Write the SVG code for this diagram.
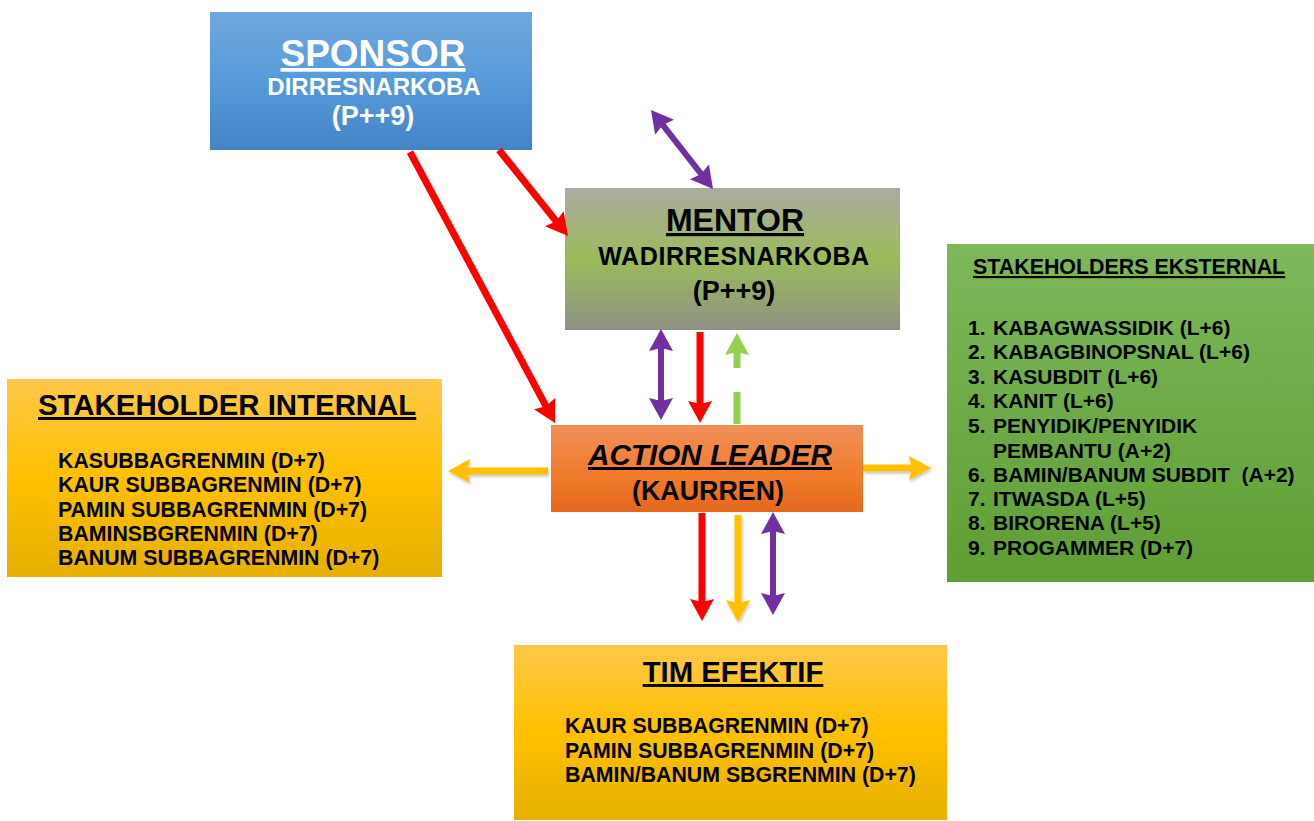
<svg xmlns="http://www.w3.org/2000/svg" width="1314" height="821" viewBox="0 0 1314 821">
  <style>
    text { font-family: "Liberation Sans", Arial, sans-serif; font-weight: bold; fill: #000; white-space: pre; }
    .ul { text-decoration: underline; }
    .mid { text-anchor: middle; }
    .white { fill: #fff; }
    .item { font-size: 21.3px; }
    .ext { font-size: 21px; }
    .conn { fill: none; stroke-linecap: butt; }
    .red { stroke: #ff0000; stroke-width: 7; }
    .purple { stroke: #7030a0; stroke-width: 6; }
    .green { stroke: #92d050; stroke-width: 7; }
    .yellow { stroke: #ffc000; stroke-width: 7; }
  </style>
  <defs>
    <linearGradient id="gBlue" x1="0" y1="0" x2="0" y2="1">
      <stop offset="0" stop-color="#70a8dd"/>
      <stop offset="0.5" stop-color="#579ad9"/>
      <stop offset="1" stop-color="#4383c6"/>
    </linearGradient>
    <linearGradient id="gMentor" x1="0" y1="0" x2="0" y2="1">
      <stop offset="0" stop-color="#ababa2"/>
      <stop offset="0.5" stop-color="#9bbb59"/>
      <stop offset="1" stop-color="#8e9285"/>
    </linearGradient>
    <linearGradient id="gGreen" x1="0" y1="0" x2="0" y2="1">
      <stop offset="0" stop-color="#7db85b"/>
      <stop offset="1" stop-color="#5f9e33"/>
    </linearGradient>
    <linearGradient id="gGold" x1="0" y1="0" x2="0" y2="1">
      <stop offset="0" stop-color="#ffc84a"/>
      <stop offset="0.5" stop-color="#ffc000"/>
      <stop offset="1" stop-color="#e5b000"/>
    </linearGradient>
    <linearGradient id="gOrange" x1="0" y1="0" x2="0" y2="1">
      <stop offset="0" stop-color="#f08f5a"/>
      <stop offset="0.6" stop-color="#f07b2a"/>
      <stop offset="1" stop-color="#e3681c"/>
    </linearGradient>
    <filter id="soft" x="-20%" y="-50%" width="140%" height="200%">
      <feDropShadow dx="1" dy="2" stdDeviation="1.5" flood-color="#000" flood-opacity="0.25"/>
    </filter>
    <marker id="hRed" viewBox="0 0 22 24" markerWidth="22" markerHeight="24" refX="10" refY="12" orient="auto-start-reverse" markerUnits="userSpaceOnUse">
      <path d="M0,0 L22,12 L0,24 L3,12 z" fill="#ff0000"/>
    </marker>
    <marker id="hPurple" viewBox="0 0 22 24" markerWidth="22" markerHeight="24" refX="10" refY="12" orient="auto-start-reverse" markerUnits="userSpaceOnUse">
      <path d="M0,0 L22,12 L0,24 L3,12 z" fill="#7030a0"/>
    </marker>
    <marker id="hGreen" viewBox="0 0 22 24" markerWidth="22" markerHeight="24" refX="10" refY="12" orient="auto-start-reverse" markerUnits="userSpaceOnUse">
      <path d="M0,0 L22,12 L0,24 L3,12 z" fill="#92d050"/>
    </marker>
    <marker id="hYellow" viewBox="0 0 22 24" markerWidth="22" markerHeight="24" refX="10" refY="12" orient="auto-start-reverse" markerUnits="userSpaceOnUse">
      <path d="M0,0 L22,12 L0,24 L3,12 z" fill="#ffc000"/>
    </marker>
  </defs>

  <rect width="1314" height="821" fill="#fff"/>

  <!-- Sponsor -->
  <g id="sponsor">
    <rect x="210" y="12" width="322" height="138" fill="url(#gBlue)"/>
    <text class="mid white ul" x="373" y="66" font-size="37">SPONSOR</text>
    <text class="mid white" x="374" y="95" font-size="24">DIRRESNARKOBA</text>
    <text class="mid white" x="373" y="125" font-size="27">(P++9)</text>
  </g>

  <!-- Mentor -->
  <g id="mentor">
    <rect x="565" y="188" width="335" height="142" fill="url(#gMentor)"/>
    <text class="mid ul" x="735" y="231" font-size="32">MENTOR</text>
    <text class="mid" x="734" y="265" font-size="25" letter-spacing="0.6">WADIRRESNARKOBA</text>
    <text class="mid" x="734" y="300" font-size="27">(P++9)</text>
  </g>

  <!-- External stakeholders -->
  <g id="stakeholders-eksternal">
    <rect x="947" y="244" width="367" height="338" fill="url(#gGreen)"/>
    <text class="ul" x="973" y="274" font-size="21.4">STAKEHOLDERS EKSTERNAL</text>
    <text class="ext" x="968" y="335">1.<tspan x="993">KABAGWASSIDIK (L+6)</tspan></text>
    <text class="ext" x="968" y="359">2.<tspan x="993">KABAGBINOPSNAL (L+6)</tspan></text>
    <text class="ext" x="968" y="384">3.<tspan x="993">KASUBDIT (L+6)</tspan></text>
    <text class="ext" x="968" y="408">4.<tspan x="993">KANIT (L+6)</tspan></text>
    <text class="ext" x="968" y="433">5.<tspan x="993">PENYIDIK/PENYIDIK</tspan></text>
    <text class="ext" x="993" y="458">PEMBANTU (A+2)</text>
    <text class="ext" x="968" y="482">6.<tspan x="993">BAMIN/BANUM SUBDIT  (A+2)</tspan></text>
    <text class="ext" x="968" y="506">7.<tspan x="993">ITWASDA (L+5)</tspan></text>
    <text class="ext" x="968" y="530">8.<tspan x="993">BIRORENA (L+5)</tspan></text>
    <text class="ext" x="968" y="555">9.<tspan x="993">PROGAMMER (D+7)</tspan></text>
  </g>

  <!-- Internal stakeholders -->
  <g id="stakeholder-internal">
    <rect x="7" y="379" width="435" height="198" fill="url(#gGold)"/>
    <text class="ul" x="38" y="415" font-size="29.4">STAKEHOLDER INTERNAL</text>
    <text class="item" x="58" y="468">KASUBBAGRENMIN (D+7)</text>
    <text class="item" x="58" y="492">KAUR SUBBAGRENMIN (D+7)</text>
    <text class="item" x="58" y="517">PAMIN SUBBAGRENMIN (D+7)</text>
    <text class="item" x="58" y="541">BAMINSBGRENMIN (D+7)</text>
    <text class="item" x="58" y="565">BANUM SUBBAGRENMIN (D+7)</text>
  </g>

  <!-- Action leader -->
  <g id="action-leader">
    <rect x="551" y="425" width="312" height="87" fill="url(#gOrange)"/>
    <text class="mid ul" x="710" y="465" font-size="29.7" font-style="italic">ACTION LEADER</text>
    <text class="mid" x="708" y="500" font-size="26.8">(KAURREN)</text>
  </g>

  <!-- Effective team -->
  <g id="tim-efektif">
    <rect x="514" y="645" width="433" height="175" fill="url(#gGold)"/>
    <text class="mid ul" x="733" y="682" font-size="29.3">TIM EFEKTIF</text>
    <text class="item" x="565" y="733">KAUR SUBBAGRENMIN (D+7)</text>
    <text class="item" x="565" y="758">PAMIN SUBBAGRENMIN (D+7)</text>
    <text class="item" x="565" y="782">BAMIN/BANUM SBGRENMIN (D+7)</text>
  </g>

  <!-- Connectors -->
  <g id="connectors" class="conn">
    <line class="conn red" x1="410" y1="152" x2="549.3" y2="412.4" marker-end="url(#hRed)"/>
    <line class="conn red" x1="499" y1="150" x2="560.5" y2="226.6" marker-end="url(#hRed)"/>
    <line class="conn purple" x1="658.4" y1="119.4" x2="705.6" y2="179.6" marker-start="url(#hPurple)" marker-end="url(#hPurple)"/>
    <line class="conn purple" x1="661" y1="341" x2="661" y2="408" marker-start="url(#hPurple)" marker-end="url(#hPurple)"/>
    <line class="conn red" x1="700" y1="332" x2="700" y2="411" marker-end="url(#hRed)"/>
    <line class="conn green" x1="737" y1="424" x2="737" y2="345" stroke-dasharray="32 24 40" marker-end="url(#hGreen)"/>
    <line class="conn red" x1="702" y1="513" x2="702" y2="609" marker-end="url(#hRed)"/>
    <g filter="url(#soft)">
      <line class="conn yellow" x1="738" y1="515" x2="738" y2="610" marker-end="url(#hYellow)"/>
      <line class="conn yellow" x1="548" y1="471" x2="460" y2="471" marker-end="url(#hYellow)"/>
      <line class="conn yellow" x1="863" y1="468" x2="919" y2="468" marker-end="url(#hYellow)"/>
    </g>
    <line class="conn purple" x1="773" y1="524" x2="773" y2="603" marker-start="url(#hPurple)" marker-end="url(#hPurple)"/>
  </g>
</svg>
